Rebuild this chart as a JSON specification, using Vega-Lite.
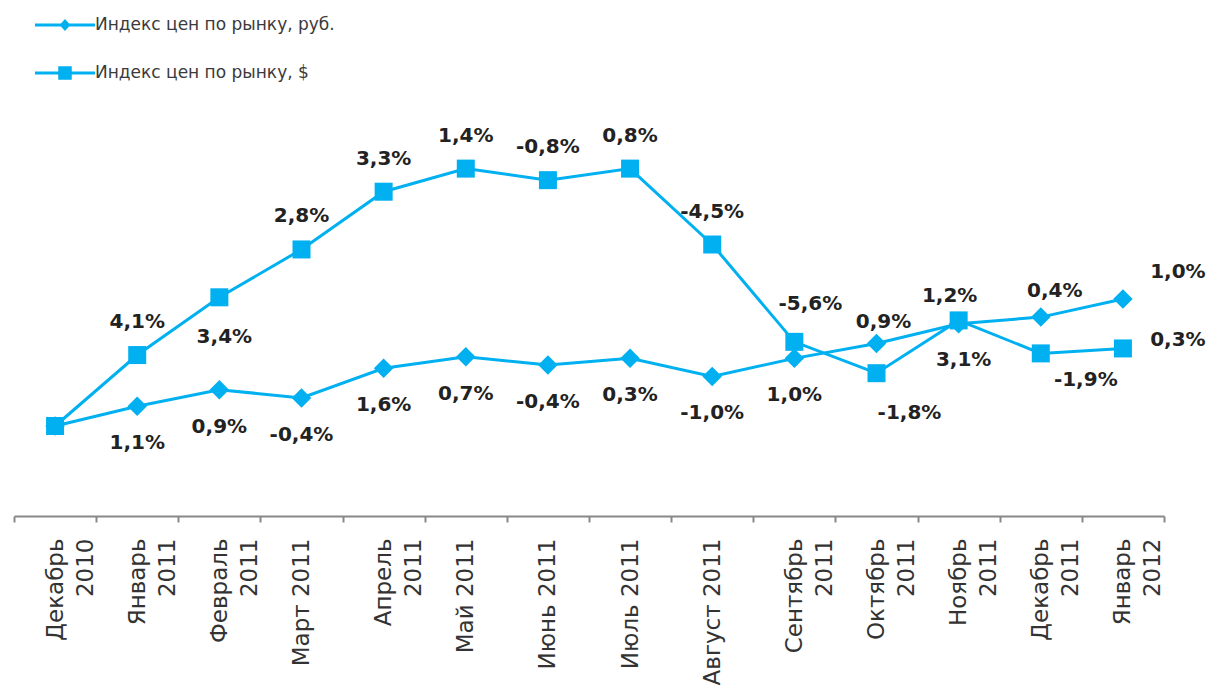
{
  "$schema": "https://vega.github.io/schema/vega-lite/v6.json",
  "width": 1150,
  "height": 416,
  "autosize": "none",
  "padding": {"left": 14, "top": 100, "right": 48, "bottom": 175},
  "background": "white",
  "config": {"view": {"stroke": null}},
  "data": {"values": [
    {"m": 0, "month": "Декабрь\n2010", "series": "Индекс цен по рынку, руб.", "value": 100, "label": ""},
    {"m": 1, "month": "Январь\n2011", "series": "Индекс цен по рынку, руб.", "value": 101.2, "label": "1,1%"},
    {"m": 2, "month": "Февраль\n2011", "series": "Индекс цен по рынку, руб.", "value": 102.2, "label": "0,9%"},
    {"m": 3, "month": "Март 2011", "series": "Индекс цен по рынку, руб.", "value": 101.7, "label": "-0,4%"},
    {"m": 4, "month": "Апрель\n2011", "series": "Индекс цен по рынку, руб.", "value": 103.5, "label": "1,6%"},
    {"m": 5, "month": "Май 2011", "series": "Индекс цен по рынку, руб.", "value": 104.2, "label": "0,7%"},
    {"m": 6, "month": "Июнь 2011", "series": "Индекс цен по рынку, руб.", "value": 103.7, "label": "-0,4%"},
    {"m": 7, "month": "Июль 2011", "series": "Индекс цен по рынку, руб.", "value": 104.1, "label": "0,3%"},
    {"m": 8, "month": "Август 2011", "series": "Индекс цен по рынку, руб.", "value": 103.0, "label": "-1,0%"},
    {"m": 9, "month": "Сентябрь\n2011", "series": "Индекс цен по рынку, руб.", "value": 104.1, "label": "1,0%"},
    {"m": 10, "month": "Октябрь\n2011", "series": "Индекс цен по рынку, руб.", "value": 105.0, "label": "0,9%"},
    {"m": 11, "month": "Ноябрь\n2011", "series": "Индекс цен по рынку, руб.", "value": 106.2, "label": "1,2%"},
    {"m": 12, "month": "Декабрь\n2011", "series": "Индекс цен по рынку, руб.", "value": 106.6, "label": "0,4%"},
    {"m": 13, "month": "Январь\n2012", "series": "Индекс цен по рынку, руб.", "value": 107.7, "label": "1,0%"},
    {"m": 0, "month": "Декабрь\n2010", "series": "Индекс цен по рынку, $", "value": 100, "label": ""},
    {"m": 1, "month": "Январь\n2011", "series": "Индекс цен по рынку, $", "value": 104.3, "label": "4,1%"},
    {"m": 2, "month": "Февраль\n2011", "series": "Индекс цен по рынку, $", "value": 107.8, "label": "3,4%"},
    {"m": 3, "month": "Март 2011", "series": "Индекс цен по рынку, $", "value": 110.7, "label": "2,8%"},
    {"m": 4, "month": "Апрель\n2011", "series": "Индекс цен по рынку, $", "value": 114.2, "label": "3,3%"},
    {"m": 5, "month": "Май 2011", "series": "Индекс цен по рынку, $", "value": 115.6, "label": "1,4%"},
    {"m": 6, "month": "Июнь 2011", "series": "Индекс цен по рынку, $", "value": 114.9, "label": "-0,8%"},
    {"m": 7, "month": "Июль 2011", "series": "Индекс цен по рынку, $", "value": 115.6, "label": "0,8%"},
    {"m": 8, "month": "Август 2011", "series": "Индекс цен по рынку, $", "value": 111.0, "label": "-4,5%"},
    {"m": 9, "month": "Сентябрь\n2011", "series": "Индекс цен по рынку, $", "value": 105.1, "label": "-5,6%"},
    {"m": 10, "month": "Октябрь\n2011", "series": "Индекс цен по рынку, $", "value": 103.2, "label": "-1,8%"},
    {"m": 11, "month": "Ноябрь\n2011", "series": "Индекс цен по рынку, $", "value": 106.4, "label": "3,1%"},
    {"m": 12, "month": "Декабрь\n2011", "series": "Индекс цен по рынку, $", "value": 104.4, "label": "-1,9%"},
    {"m": 13, "month": "Январь\n2012", "series": "Индекс цен по рынку, $", "value": 104.7, "label": "0,3%"}
  ]},
  "encoding": {
    "x": {
      "field": "month", "type": "nominal", "sort": null,
      "scale": {"type": "band", "paddingInner": 0, "paddingOuter": 0},
      "axis": {
        "title": null, "orient": "bottom", "offset": 0,
        "labelExpr": "isValid(datum.value) ? split(datum.value, '\\n') : ''",
        "labelAngle": -90, "labelAlign": "right", "labelBaseline": "middle",
        "labelFont": "DejaVu Sans", "labelFontSize": 23, "labelColor": "#333333",
        "labelLineHeight": 30, "labelPadding": 16, "labelLimit": 300,
        "domainColor": "#888888", "domainWidth": 2,
        "tickColor": "#888888", "tickWidth": 2, "tickSize": 6,
        "tickBand": "extent", "grid": false, "labelOverlap": false
      }
    },
    "y": {
      "field": "value", "type": "quantitative",
      "scale": {"domain": [94.545, 119.758], "zero": false, "nice": false},
      "axis": null
    }
  },
  "layer": [
    {
      "mark": {"type": "line", "color": "#00B0F0", "strokeWidth": 3},
      "encoding": {"detail": {"field": "series"}}
    },
    {
      "transform": [{"filter": "datum.series == 'Индекс цен по рынку, руб.'"}],
      "mark": {"type": "point", "shape": "diamond", "filled": true, "color": "#00B0F0", "opacity": 1, "size": 380}
    },
    {
      "transform": [{"filter": "datum.series == 'Индекс цен по рынку, $'"}],
      "mark": {"type": "point", "shape": "square", "filled": true, "color": "#00B0F0", "opacity": 1, "size": 324}
    },
    {
      "mark": {"type": "point", "filled": true, "opacity": 0, "size": 900, "color": "#00B0F0"},
      "encoding": {
        "shape": {
          "field": "series", "type": "nominal",
          "scale": {
            "domain": ["Индекс цен по рынку, руб.", "Индекс цен по рынку, $"],
            "range": ["M-2,-0.1H2V0.1H-2ZM0,-0.4L0.36,0L0,0.4L-0.36,0Z", "M-2,-0.1H2V0.1H-2ZM-0.45,-0.45H0.45V0.45H-0.45Z"]
          },
          "legend": {
            "title": null, "orient": "none", "legendX": 36, "legendY": -90,
            "direction": "vertical",
            "symbolSize": 900, "symbolFillColor": "#00B0F0", "symbolStrokeColor": "#00B0F0",
            "symbolStrokeWidth": 0, "symbolOpacity": 1,
            "labelFont": "DejaVu Sans", "labelFontSize": 17, "labelColor": "#3a3a3a",
            "labelOffset": 15, "rowPadding": 25, "labelLimit": 400
          }
        }
      }
    },
    {
      "transform": [{"filter": "datum.series == 'Индекс цен по рынку, $' && indexof([1,3,4,5,6,7,8], datum.m) >= 0"}],
      "mark": {"type": "text", "font": "DejaVu Sans", "fontWeight": "bold", "fontSize": 20, "color": "#222222", "dy": -33},
      "encoding": {"text": {"field": "label"}}
    },
    {
      "transform": [{"filter": "datum.series == 'Индекс цен по рынку, $' && indexof([2,11], datum.m) >= 0"}],
      "mark": {"type": "text", "font": "DejaVu Sans", "fontWeight": "bold", "fontSize": 20, "color": "#222222", "dy": 40, "dx": 5},
      "encoding": {"text": {"field": "label"}}
    },
    {
      "transform": [{"filter": "datum.series == 'Индекс цен по рынку, $' && datum.m == 9"}],
      "mark": {"type": "text", "font": "DejaVu Sans", "fontWeight": "bold", "fontSize": 20, "color": "#222222", "dy": -38, "dx": 16},
      "encoding": {"text": {"field": "label"}}
    },
    {
      "transform": [{"filter": "datum.series == 'Индекс цен по рынку, $' && datum.m == 10"}],
      "mark": {"type": "text", "font": "DejaVu Sans", "fontWeight": "bold", "fontSize": 20, "color": "#222222", "dy": 40, "dx": 33},
      "encoding": {"text": {"field": "label"}}
    },
    {
      "transform": [{"filter": "datum.series == 'Индекс цен по рынку, $' && datum.m == 12"}],
      "mark": {"type": "text", "font": "DejaVu Sans", "fontWeight": "bold", "fontSize": 20, "color": "#222222", "dy": 27, "dx": 45},
      "encoding": {"text": {"field": "label"}}
    },
    {
      "transform": [{"filter": "datum.series == 'Индекс цен по рынку, $' && datum.m == 13"}],
      "mark": {"type": "text", "font": "DejaVu Sans", "fontWeight": "bold", "fontSize": 20, "color": "#222222", "dy": -8, "dx": 55},
      "encoding": {"text": {"field": "label"}}
    },
    {
      "transform": [{"filter": "datum.series == 'Индекс цен по рынку, руб.' && datum.m >= 1 && datum.m <= 9"}],
      "mark": {"type": "text", "font": "DejaVu Sans", "fontWeight": "bold", "fontSize": 20, "color": "#222222", "dy": 37},
      "encoding": {"text": {"field": "label"}}
    },
    {
      "transform": [{"filter": "datum.series == 'Индекс цен по рынку, руб.' && datum.m == 10"}],
      "mark": {"type": "text", "font": "DejaVu Sans", "fontWeight": "bold", "fontSize": 20, "color": "#222222", "dy": -21, "dx": 7},
      "encoding": {"text": {"field": "label"}}
    },
    {
      "transform": [{"filter": "datum.series == 'Индекс цен по рынку, руб.' && datum.m == 11"}],
      "mark": {"type": "text", "font": "DejaVu Sans", "fontWeight": "bold", "fontSize": 20, "color": "#222222", "dy": -28, "dx": -9},
      "encoding": {"text": {"field": "label"}}
    },
    {
      "transform": [{"filter": "datum.series == 'Индекс цен по рынку, руб.' && datum.m == 12"}],
      "mark": {"type": "text", "font": "DejaVu Sans", "fontWeight": "bold", "fontSize": 20, "color": "#222222", "dy": -26, "dx": 14},
      "encoding": {"text": {"field": "label"}}
    },
    {
      "transform": [{"filter": "datum.series == 'Индекс цен по рынку, руб.' && datum.m == 13"}],
      "mark": {"type": "text", "font": "DejaVu Sans", "fontWeight": "bold", "fontSize": 20, "color": "#222222", "dy": -27, "dx": 55},
      "encoding": {"text": {"field": "label"}}
    }
  ]
}
